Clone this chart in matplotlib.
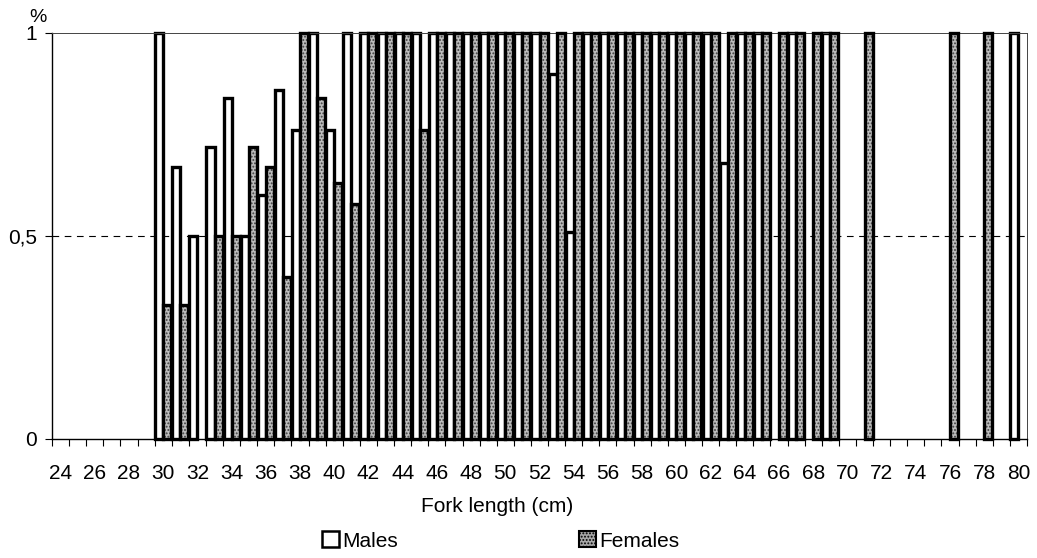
import matplotlib
matplotlib.use("Agg")
import matplotlib.pyplot as plt
from matplotlib.patches import Patch
import numpy as np

plt.rcParams['font.family'] = ['Liberation Sans', 'DejaVu Sans']
plt.rcParams['hatch.linewidth'] = 0.9

# Fork length classes (cm)
lengths = list(range(24, 81))

# Proportion of mature fish per length class
males = [
    0, 0, 0, 0, 0, 0,                      # 24-29
    1.0, 0.67, 0.5, 0.72, 0.84, 0.5,       # 30-35
    0.6, 0.86, 0.76, 1.0, 0.76, 1.0,       # 36-41
    1.0, 1.0, 1.0, 1.0, 1.0, 1.0,          # 42-47
    1.0, 1.0, 1.0, 1.0, 1.0, 0.9,          # 48-53
    0.51, 1.0, 1.0, 1.0, 1.0, 1.0,         # 54-59
    1.0, 1.0, 1.0, 0.68, 1.0, 1.0,         # 60-65
    0, 1.0, 0, 1.0, 0, 0,                  # 66-71
    0, 0, 0, 0, 0, 0,                      # 72-77
    0, 0, 1.0,                             # 78-80
]
females = [
    0, 0, 0, 0, 0, 0,                      # 24-29
    0.33, 0.33, 0, 0.5, 0.5, 0.72,         # 30-35
    0.67, 0.40, 1.0, 0.84, 0.63, 0.58,     # 36-41
    1.0, 1.0, 1.0, 0.76, 1.0, 1.0,         # 42-47
    1.0, 1.0, 1.0, 1.0, 1.0, 1.0,          # 48-53
    1.0, 1.0, 1.0, 1.0, 1.0, 1.0,          # 54-59
    1.0, 1.0, 1.0, 1.0, 1.0, 1.0,          # 60-65
    1.0, 1.0, 1.0, 1.0, 0, 1.0,            # 66-71
    0, 0, 0, 0, 1.0, 0,                    # 72-77
    1.0, 0, 0,                             # 78-80
]

y_ticks = [0, 0.5, 1]
y_ticklabels = ['0', '0,5', '1']

fig = plt.figure(figsize=(10.37, 5.58), dpi=100)
ax = fig.add_axes([52 / 1037, 1 - 439 / 558, (1027 - 52) / 1037, (439 - 33) / 558])

x = np.array(lengths, dtype=float)
m = np.array(males)
f = np.array(females)
w = 0.47
edge_lw = 2.4

# dashed reference line at 0.5, drawn beneath the bars
ax.axhline(0.5, color='black', lw=0.8, ls=(0, (6, 5)), zorder=1)

m_lw = [edge_lw if v > 0 else 0 for v in m]
f_lw = [edge_lw if v > 0 else 0 for v in f]

# males: white bars with black outline
ax.bar(x - w / 2, m, width=w, color='white', edgecolor='black',
       linewidth=m_lw, zorder=2, clip_on=False)

# females: stippled grey fill, then a black outline on top
ax.bar(x + w / 2, f, width=w, color='#bdbdbd', edgecolor='#404040',
       hatch='.....', linewidth=0, zorder=2, clip_on=False)
ax.bar(x + w / 2, f, width=w, facecolor='none', edgecolor='black',
       linewidth=f_lw, zorder=3, clip_on=False)

ax.set_xlim(23.5, 80.5)
ax.set_ylim(0, 1)

ax.set_xticks(lengths[::2])
ax.set_xticklabels([str(v) for v in lengths[::2]], fontsize=15)
ax.set_xticks(np.arange(23.5, 81.0, 1.0), minor=True)
ax.tick_params(axis='x', which='major', length=0, pad=18)
ax.tick_params(axis='x', which='minor', length=5, width=0.8, direction='out')

ax.set_yticks(y_ticks)
ax.set_yticklabels(y_ticklabels, fontsize=15)
ax.tick_params(axis='y', length=5, width=0.8, direction='out', pad=6)

for side in ['left', 'bottom']:
    ax.spines[side].set_linewidth(1.0)
    ax.spines[side].set_color('black')
for side in ['top', 'right']:
    ax.spines[side].set_linewidth(0.7)
    ax.spines[side].set_color('#444444')

fig.text(38 / 1037, 1 - 17 / 558, '%', fontsize=14, ha='center', va='center')
fig.text(497 / 1037, 1 - 506 / 558, 'Fork length (cm)', fontsize=15,
         ha='center', va='center')

male_handle = Patch(facecolor='white', edgecolor='black', linewidth=1.8)
female_handle = Patch(facecolor='#a8a8a8', edgecolor='black', linewidth=1.5,
                      hatch='.....')
common = dict(frameon=False, fontsize=15, handlelength=0.8, handleheight=0.8,
              handletextpad=0.15, borderpad=0, borderaxespad=0, loc='center left')
leg1 = fig.legend([male_handle], ['Males'],
                  bbox_to_anchor=(322 / 1037, 1 - 541 / 558), **common)
fig.legend([female_handle], ['Females'],
           bbox_to_anchor=(579 / 1037, 1 - 541 / 558), **common)

fig.savefig('out.png', dpi=100)
